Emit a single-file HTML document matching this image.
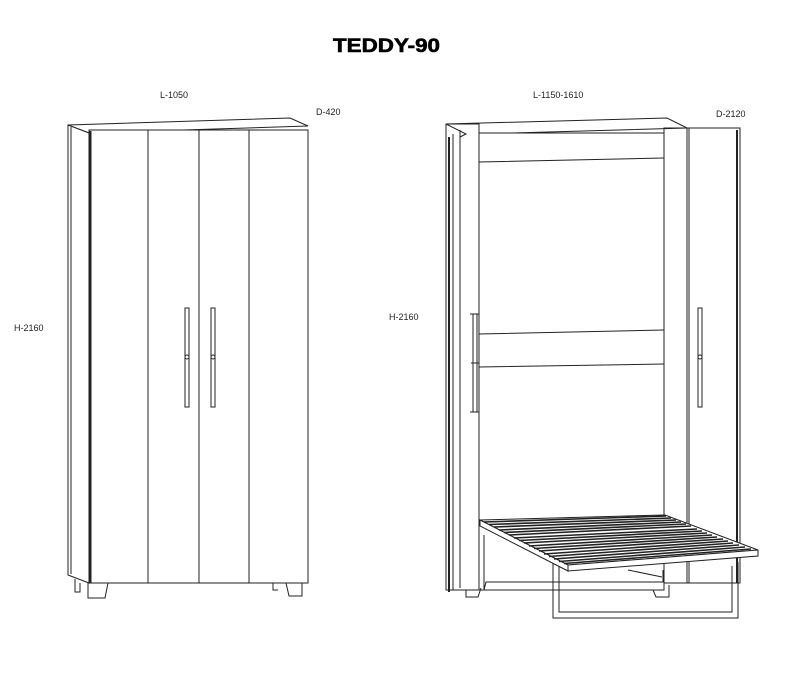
<!DOCTYPE html>
<html><head><meta charset="utf-8"><style>
html,body{margin:0;padding:0;background:#fff;}
svg{display:block;}
text{font-family:"Liberation Sans",Arial,sans-serif;fill:#222;}
</style></head><body>
<svg width="800" height="689" viewBox="0 0 800 689" xmlns="http://www.w3.org/2000/svg">
<rect width="800" height="689" fill="#fff"/>
<text x="333" y="52" font-size="19" font-weight="bold" textLength="107" lengthAdjust="spacingAndGlyphs" style="fill:#000;stroke:#000;stroke-width:0.6">TEDDY-90</text>
<g font-size="9">
<text x="160" y="98">L-1050</text>
<text x="316" y="115">D-420</text>
<text x="14" y="331">H-2160</text>
<text x="533" y="98">L-1150-1610</text>
<text x="716" y="117">D-2120</text>
<text x="389" y="320">H-2160</text>
<text x="562" y="508">900</text>
<text x="699" y="521">2000</text>
</g>

<!-- LEFT CABINET -->
<g fill="none" stroke="#222" stroke-width="1">
<polygon points="68,125 290,118 308,126 89,133" fill="#fff"/>
<polygon points="68,125 89,133 89,583 68,575" fill="#fff"/>
<line x1="71" y1="127" x2="71" y2="574"/>
<rect x="89" y="130" width="219" height="453" fill="#fff"/>
<line x1="90.5" y1="131" x2="90.5" y2="583" stroke-width="2"/>
<line x1="148" y1="130" x2="148" y2="583"/>
<line x1="199" y1="130" x2="199" y2="583"/>
<line x1="249" y1="130" x2="249" y2="583"/>
<rect x="185" y="308" width="4" height="99"/>
<rect x="211" y="308" width="4" height="99"/>
<circle cx="187" cy="357" r="2"/>
<circle cx="213" cy="357" r="2"/>
<path d="M75,579 V592 H80 V583 M88,583 V598 H105 L108,583"/>
<path d="M273,583 V590 H278 M286,583 L289,596 H302 V583"/>
</g>

<!-- RIGHT CABINET -->
<g fill="none" stroke="#222" stroke-width="1">
<polygon points="446,124 667,118 687,128 479,134" fill="#fff"/>
<rect x="446" y="124" width="33" height="466" fill="#fff"/>
<line x1="449" y1="137" x2="449" y2="592" stroke-width="2"/>
<line x1="453" y1="134" x2="453" y2="590"/>
<line x1="460" y1="130" x2="460" y2="588"/>
<path d="M446,124 L466,134 L460,137"/>
<rect x="479" y="133" width="185" height="457" fill="#fff"/>
<path d="M479,162 L664,158 M479,334 L664,330 M479,367 L664,364"/>
<rect x="664" y="128" width="23" height="455"/>
<rect x="687" y="128" width="53" height="455" fill="#fff"/>
<line x1="689" y1="128" x2="689" y2="583"/>
<line x1="737" y1="130" x2="737" y2="583" stroke-width="2"/>
<rect x="698" y="308" width="4" height="99"/>
<circle cx="700" cy="357" r="2"/>
<rect x="473" y="314" width="4" height="98"/>
<path d="M470,314 H479 M470,412 H479 M471,363 H479"/>
<path d="M466,590 V597 H478 L481,588 M653,590 L656,597 H669 V585"/>
<path d="M484,535 V590 H553 M484,590 L486,582 H663 V570 M553,562 V618 H738 V562 M559,566 V612 H732 V566 M628,570 L662,577"/>
<polygon points="480,520 665,515 758,550 568,565" fill="#fff"/>
<polygon points="480,520 568,565 568,571 480,526" fill="#fff"/>
<polygon points="568,565 758,550 758,556 568,571" fill="#fff"/>
</g>
<g stroke="#222" stroke-width="1.6">
<line x1="484" y1="522" x2="666" y2="516"/>
<line x1="489" y1="524.5" x2="671" y2="518"/>
<line x1="494" y1="527" x2="676" y2="520"/>
<line x1="499" y1="530" x2="681" y2="522"/>
<line x1="504" y1="532.5" x2="686" y2="524"/>
<line x1="509" y1="535" x2="691" y2="526"/>
<line x1="514" y1="538" x2="697" y2="529"/>
<line x1="519" y1="540.5" x2="702" y2="531"/>
<line x1="524" y1="543" x2="707" y2="533"/>
<line x1="529" y1="546" x2="712" y2="535"/>
<line x1="534" y1="548.5" x2="717" y2="537"/>
<line x1="539" y1="551" x2="723" y2="539"/>
<line x1="544" y1="554" x2="728" y2="541"/>
<line x1="549" y1="556.5" x2="733" y2="543"/>
<line x1="554" y1="559" x2="739" y2="545"/>
<line x1="559" y1="561.5" x2="745" y2="547"/>
<line x1="564" y1="563.5" x2="751" y2="549"/>
</g>
</svg>
</body></html>
